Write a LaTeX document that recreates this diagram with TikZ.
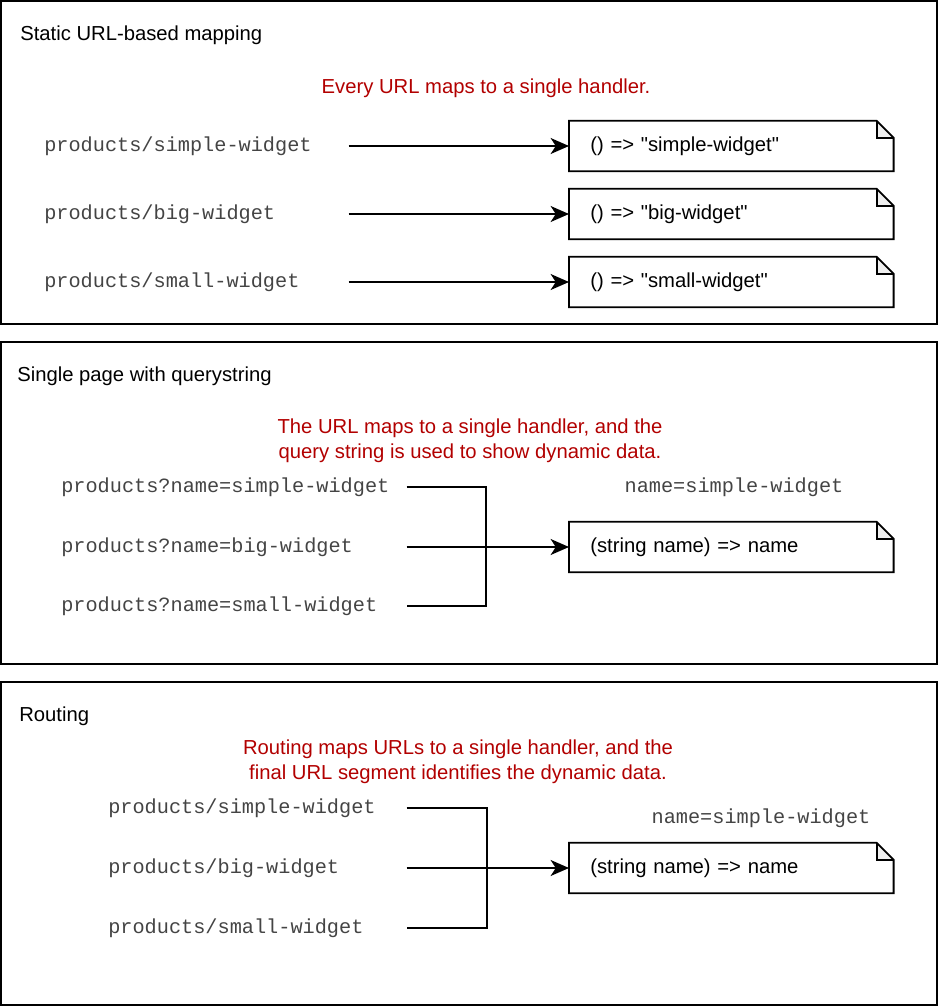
\documentclass[tikz,border=0pt]{standalone}
\usepackage{fontspec}
\setmainfont{Liberation Sans}[Ligatures=TeXOff]
\setmonofont{Liberation Mono}
\usepackage{tikz}
\usetikzlibrary{arrows.meta, positioning}
\definecolor{rnote}{HTML}{B20000}
\definecolor{rurl}{HTML}{444444}
\definecolor{rfold}{HTML}{EFEFEF}
\newcommand{\dfont}{\fontsize{14.4}{17.5}\selectfont}
\newcommand{\foldsz}{0.425cm}
\tikzset{
  panel/.style={draw=black, line width=1.3pt},
  ptitle/.style={anchor=west, inner sep=0pt, font=\dfont},
  rtext/.style={text=rnote, align=center, inner sep=0pt, font=\dfont},
  urlbox/.style={anchor=west, inner sep=0pt, text=rurl, align=left,
                 text width=#1, font=\dfont\ttfamily},
  param/.style={text=rurl, inner sep=0pt, font=\dfont\ttfamily},
  hnote/.style={anchor=west, minimum height=1.25cm, text width=7.05cm,
                inner xsep=0.525cm, inner ysep=0pt, align=left, font=\dfont},
  noteline/.style={draw=black, line width=1.3pt, line join=miter},
  arr/.style={-{Stealth[length=4.6mm, width=4mm, inset=1.3mm]}, line width=1.2pt},
  link/.style={line width=1.1pt},
}

\begin{document}
\begin{tikzpicture}[x=0.025cm, y=-0.025cm]
  \useasboundingbox (0,0) rectangle (939,1007);

  %% Panel 1: Static URL-based mapping
  \draw[panel] (1,1) rectangle (937,324);
  \node[ptitle] (t1) at (20,35) {Static URL-based mapping};
  \node[rtext] (r1) at (486,88) {Every URL maps to a single handler.};
  % one handler per URL
  \foreach \i/\w/\y in {1/simple-widget/146, 2/big-widget/214, 3/small-widget/282}{
    \node[urlbox=7.6cm] (u\i) at (44,\y) {products/\w};
    \node[hnote] (h\i) at (569,\y) {() => "\w"};
    \draw[arr] (u\i.east) -- (h\i.west);
  }

  %% Panel 2: Single page with querystring
  \draw[panel] (1,342) rectangle (937,664);
  \node[ptitle] (t2) at (17,376) {Single page with querystring};
  \node[rtext] (r2) at (470,441) {The URL maps to a single handler, and the\\query string is used to show dynamic data.};
  \foreach \i/\w/\y in {1/simple-widget/487, 2/big-widget/547, 3/small-widget/606}{
    \node[urlbox=8.625cm] (q\i) at (61,\y) {products?name=\w};
  }
  \coordinate (qj) at (486,547);
  \node[hnote] (qh) at (569,547) {(string name) => name};
  \node[param] (qp) at (734,487) {name=simple-widget};
  % bracket into the shared handler
  \draw[link] (q1.east) -| (qj) |- (q3.east);
  \draw[arr] (q2.east) -- (qh.west);

  %% Panel 3: Routing
  \draw[panel] (1,682) rectangle (937,1005);
  \node[ptitle] (t3) at (19,716) {Routing};
  \node[rtext] (r3) at (458,762) {Routing maps URLs to a single handler, and the\\final URL segment identifies the dynamic data.};
  \foreach \i/\w/\y in {1/simple-widget/808, 2/big-widget/868, 3/small-widget/928}{
    \node[urlbox=7.45cm] (p\i) at (108,\y) {products/\w};
  }
  \coordinate (pj) at (487,868);
  \node[hnote] (rh) at (569,868) {(string name) => name};
  \node[param] (rp) at (761,818) {name=simple-widget};
  \draw[link] (p1.east) -| (pj) |- (p3.east);
  \draw[arr] (p2.east) -- (rh.west);

  %% Note outlines with folded corner
  \foreach \n in {h1, h2, h3, qh, rh}{
    \fill[rfold] ([xshift=-\foldsz]\n.north east) -- ([xshift=-\foldsz, yshift=-\foldsz]\n.north east)
      -- ([yshift=-\foldsz]\n.north east) -- cycle;
    \draw[noteline] (\n.south west) -- (\n.north west) -- ([xshift=-\foldsz]\n.north east)
      -- ([yshift=-\foldsz]\n.north east) -- (\n.south east) -- cycle;
    \draw[noteline] ([xshift=-\foldsz]\n.north east) -- ([xshift=-\foldsz, yshift=-\foldsz]\n.north east)
      -- ([yshift=-\foldsz]\n.north east);
  }

\end{tikzpicture}
\end{document}
